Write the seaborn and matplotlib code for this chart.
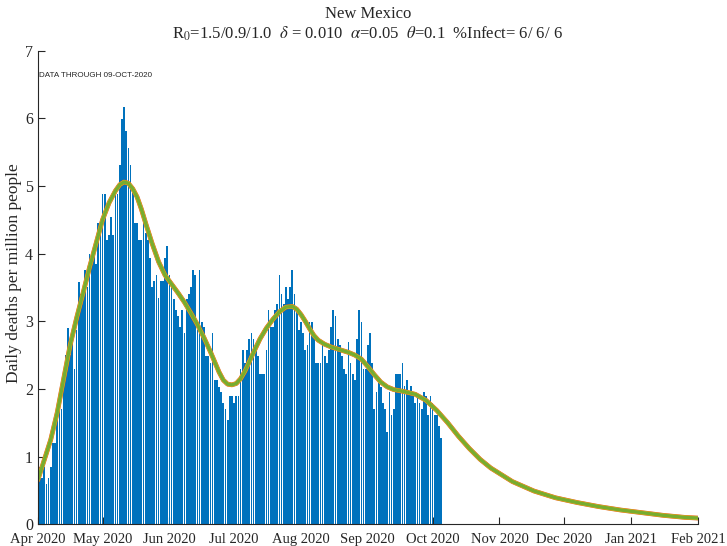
import numpy as np
import matplotlib
matplotlib.use("Agg")
import matplotlib.pyplot as plt
import seaborn as sns

# daily deaths per million, one value per day starting 01-Apr-2020
deaths = [
    # Apr
    0.85, 0.85, 0.68, 0.85, 0.60, 0.68, 0.85, 1.20, 1.20, 1.55, 1.95, 1.70, 2.30, 2.50, 2.90,
    2.50, 2.75, 2.30, 2.87, 3.58, 3.40, 3.40, 3.76, 3.50, 4.00, 3.85, 4.00, 3.85, 4.45,
    # end Apr / May
    4.35, 4.88, 4.88, 4.20, 4.28, 4.54, 4.28, 4.94, 4.88, 5.31, 5.99, 6.17, 5.82, 5.56, 5.31,
    4.89, 4.45, 4.45, 4.20, 4.20, 4.45, 4.30, 4.20, 3.93, 3.51, 3.60, 3.68, 3.34, 3.60, 3.60,
    3.93, 4.11,
    # Jun
    3.68, 3.58, 3.33, 3.17, 3.08, 2.91, 3.17, 2.82, 3.33, 3.41, 3.51, 3.76, 3.68, 2.87, 3.76,
    2.99, 2.91, 2.48, 2.48, 2.38, 2.82, 2.13, 2.13, 2.03, 1.96, 1.79, 1.71, 1.54, 1.89, 1.89,
    # Jul
    1.79, 1.89, 1.89, 2.30, 2.57, 2.38, 2.57, 2.74, 2.82, 2.74, 2.57, 2.48, 2.22, 2.22, 2.22,
    2.57, 3.17, 2.91, 2.91, 3.17, 3.25, 3.68, 3.41, 3.25, 3.51, 3.33, 3.51, 3.76, 3.41, 3.17,
    # Aug
    2.87, 2.99, 2.82, 2.57, 2.65, 2.99, 2.99, 2.82, 2.39, 2.39, 2.39, 2.69, 2.48, 2.39, 2.57,
    2.91, 3.17, 3.08, 2.74, 2.65, 2.48, 2.30, 2.22, 2.69, 2.39, 2.22, 2.13, 2.74, 3.17, 2.99,
    # Sep / early Oct
    2.30, 2.30, 2.65, 2.82, 2.39, 1.71, 1.96, 2.13, 2.03, 1.79, 1.71, 1.36, 1.96, 1.62, 1.71,
    2.22, 2.22, 2.22, 2.39, 2.05, 2.13, 1.96, 2.05, 1.96, 1.79, 1.89, 1.79, 1.71, 1.96, 1.89,
    1.62, 1.89, 1.79, 1.62, 1.62, 1.45, 1.28,
]

# model curve (day since 01-Apr-2020, value)
model_days = [0, 3, 6, 9, 12, 15, 18, 21, 24, 27, 30, 33, 36, 38, 40, 42, 44, 46, 48, 50,
              53, 56, 59, 62, 65, 68, 71, 74, 77, 80, 82, 84, 86, 88, 90, 92, 94, 96, 98,
              100, 103, 106, 109, 112, 115, 118, 120, 122, 124, 126, 128, 130, 133, 136,
              140, 144, 147, 150, 153, 156, 159, 162, 165, 170, 175, 180, 185, 190, 195,
              200, 205, 210, 215, 220, 230, 240, 250, 260, 270, 280, 290, 300, 306]
model_vals = [0.65, 0.95, 1.25, 1.65, 2.15, 2.65, 3.05, 3.42, 3.80, 4.15, 4.50, 4.75, 4.93,
              5.02, 5.06, 5.04, 4.96, 4.84, 4.66, 4.45, 4.15, 3.88, 3.68, 3.55, 3.42, 3.28,
              3.12, 2.95, 2.76, 2.55, 2.40, 2.25, 2.13, 2.07, 2.06, 2.08, 2.15, 2.26, 2.40,
              2.54, 2.74, 2.90, 3.03, 3.14, 3.21, 3.22, 3.18, 3.10, 3.00, 2.89, 2.79, 2.72,
              2.66, 2.62, 2.58, 2.54, 2.50, 2.44, 2.33, 2.21, 2.10, 2.03, 1.99, 1.96, 1.92,
              1.83, 1.68, 1.50, 1.30, 1.12, 0.96, 0.83, 0.73, 0.63, 0.49, 0.39, 0.32, 0.26,
              0.21, 0.17, 0.13, 0.10, 0.09]

month_days = [0, 30, 61, 91, 122, 153, 183, 214, 244, 275, 306]
month_labels = ["Apr 2020", "May 2020", "Jun 2020", "Jul 2020", "Aug 2020", "Sep 2020",
                "Oct 2020", "Nov 2020", "Dec 2020", "Jan 2021", "Feb 2021"]

sns.set_style("ticks")
plt.rcParams["font.family"] = ["Liberation Serif", "DejaVu Serif"]
plt.rcParams["mathtext.fontset"] = "stix"

fig = plt.figure(figsize=(7.27, 5.46), dpi=100)
ax = fig.add_axes([0.052, 0.040, 0.908, 0.867])

bar_days = np.arange(len(deaths))
sns.barplot(x=bar_days, y=deaths, native_scale=True, color="#0072BD", saturation=1,
            width=0.8, errorbar=None, ax=ax, linewidth=0)

# several overlapping model runs
sns.lineplot(x=model_days, y=model_vals, color="#D95319", linewidth=3.4, ax=ax)
sns.lineplot(x=model_days, y=model_vals, color="#EDB120", linewidth=3.0, ax=ax)
sns.lineplot(x=model_days, y=model_vals, color="#77AC30", linewidth=2.4, ax=ax)

ax.set_xlim(0, 306)
ax.set_ylim(0, 7)
ax.set_xticks(month_days)
ax.set_xticklabels(month_labels, fontsize=10.5)
ax.set_yticks(range(8))
ax.set_yticklabels([str(i) for i in range(8)], fontsize=11.5)
ax.tick_params(direction="in", length=5, width=0.8, colors="#262626")
ax.tick_params(axis="x", pad=6.5)
ax.set_xlabel("")
ax.set_ylabel("Daily deaths per million people", fontsize=12.5)
ax.yaxis.set_label_coords(-0.024, 0.53)
sns.despine(ax=ax)
for s in ["left", "bottom"]:
    ax.spines[s].set_color("#262626")
    ax.spines[s].set_linewidth(0.8)

ax.set_title("New Mexico\n"
             r"R$_0$=1.5/0.9/1.0  $\delta$ = 0.010  $\alpha$=0.05  $\theta$=0.1  %Infect= 6/ 6/ 6",
             fontsize=12, linespacing=1.15, pad=9)
ax.text(0.6, 6.64, "DATA THROUGH 09-OCT-2020", fontsize=5.8,
        family=["Liberation Sans", "DejaVu Sans"], va="center", ha="left")

fig.savefig("out.png", dpi=100)
